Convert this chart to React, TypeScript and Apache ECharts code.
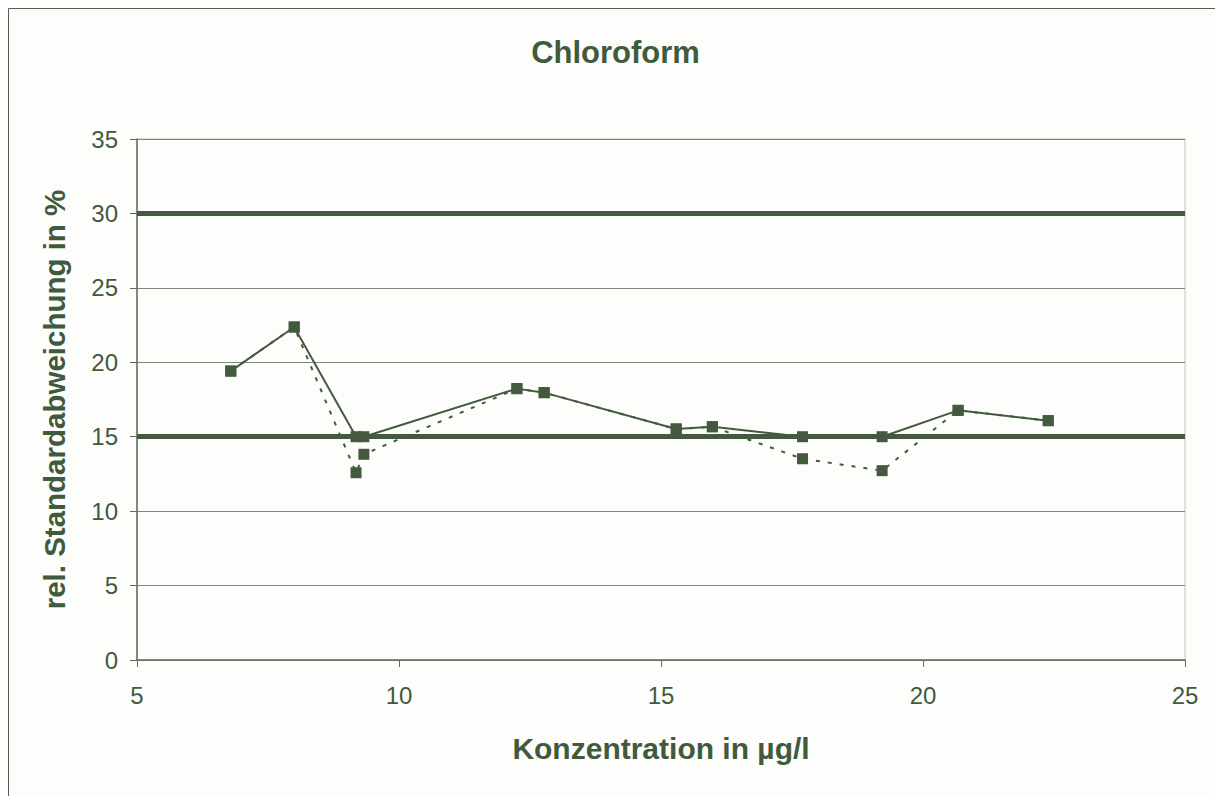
import React, { useEffect, useRef } from "react";
import * as echarts from "echarts";

const titleText = "Chloroform";
const xName = "Konzentration in µg/l";
const yName = "rel. Standardabweichung in %";

const xValues = [6.79, 8.0, 9.18, 9.33, 12.25, 12.77, 15.29, 15.98, 17.7, 19.22, 20.67, 22.39];
const solidValues = [19.41, 22.37, 15.0, 15.0, 18.23, 17.96, 15.52, 15.67, 15.0, 15.0, 16.77, 16.08];
const dottedValues = [19.41, 22.37, 12.58, 13.82, 18.23, 17.96, 15.52, 15.67, 13.52, 12.72, 16.77, 16.08];
const limitLines = [15, 30];

const TEXT = "#3f5a3d";
const LINE = "#435a3e";

export default function App() {
  const ref = useRef<HTMLDivElement>(null);
  useEffect(() => {
    if (!ref.current) return;
    const chart = echarts.init(ref.current, undefined, { renderer: "svg" });
    const fontFamily = "'Liberation Sans', Arial, sans-serif";
    chart.setOption({
      animation: false,
      backgroundColor: "#fdfdfb",
      textStyle: { fontFamily },
      title: {
        text: titleText,
        left: "center",
        top: 24,
        textStyle: { color: TEXT, fontSize: 31, fontWeight: "bold", fontFamily },
      },
      graphic: [
        {
          type: "rect",
          silent: true,
          z: 100,
          shape: { x: 0.5, y: 0.5, width: 1213, height: 820 },
          style: { fill: "none", stroke: "#4e6148", lineWidth: 1 },
        },
      ],
      grid: {
        left: 129,
        top: 131,
        right: 38,
        bottom: 136,
        show: true,
        borderColor: "#c4c4b4",
        borderWidth: 1,
        backgroundColor: "#fdfdfb",
      },
      xAxis: {
        type: "value",
        min: 5,
        max: 25,
        interval: 5,
        name: xName,
        nameLocation: "middle",
        nameGap: 73,
        nameTextStyle: { color: TEXT, fontSize: 30, fontWeight: "bold", fontFamily },
        axisLine: { show: true, lineStyle: { color: "#5f6f57", width: 1.5 } },
        axisTick: { show: true, length: 7, lineStyle: { color: "#5f6f57" } },
        axisLabel: { color: TEXT, fontSize: 24, margin: 23, fontFamily },
        splitLine: { show: false },
      },
      yAxis: {
        type: "value",
        min: 0,
        max: 35,
        interval: 5,
        name: yName,
        nameLocation: "middle",
        nameGap: 68,
        nameTextStyle: { color: TEXT, fontSize: 29.5, fontWeight: "bold", fontFamily },
        axisLine: { show: true, lineStyle: { color: "#5f6f57", width: 1.5 } },
        axisTick: { show: true, length: 7, lineStyle: { color: "#5f6f57" } },
        axisLabel: { color: TEXT, fontSize: 24, margin: 19, fontFamily },
        splitLine: { show: true, lineStyle: { color: "#7b8a74", width: 1 } },
      },
      series: [
        {
          type: "line",
          name: "dotted",
          data: xValues.map((x, i) => [x, dottedValues[i]]),
          symbol: "rect",
          symbolSize: 11,
          itemStyle: { color: LINE },
          lineStyle: { color: LINE, width: 2, type: [4, 8] },
          z: 3,
        },
        {
          type: "line",
          name: "solid",
          data: xValues.map((x, i) => [x, solidValues[i]]),
          symbol: "rect",
          symbolSize: 11,
          itemStyle: { color: LINE },
          lineStyle: { color: LINE, width: 2 },
          z: 4,
          markLine: {
            silent: true,
            symbol: "none",
            label: { show: false },
            lineStyle: { color: LINE, width: 5, type: "solid" },
            data: limitLines.map((v) => ({ yAxis: v })),
          },
        },
      ],
    });
    return () => chart.dispose();
  }, []);
  return <div ref={ref} style={{ width: 1215, height: 788 }} />;
}
